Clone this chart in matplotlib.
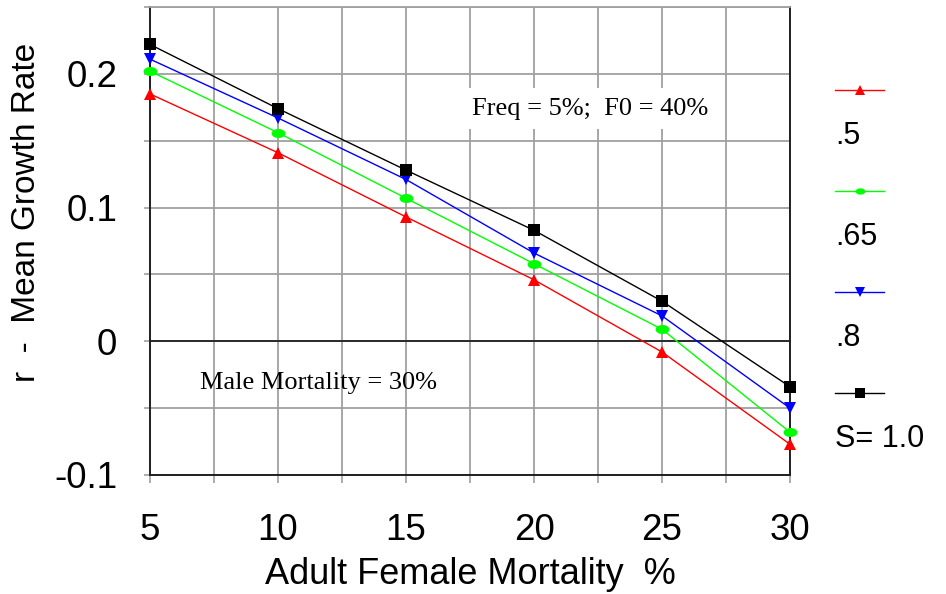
import numpy as np
import matplotlib
matplotlib.use("Agg")
import matplotlib.pyplot as plt
from matplotlib.lines import Line2D
from matplotlib.path import Path
from matplotlib.transforms import Affine2D
from matplotlib.ticker import MultipleLocator, FixedLocator, FixedFormatter

# adult female mortality (%) on the x axis
mortality = [5, 10, 15, 20, 25, 30]

# mean growth rate r for each survival value S
r_s050 = [0.185, 0.141, 0.093, 0.046, -0.008, -0.077]
r_s065 = [0.202, 0.156, 0.107, 0.058, 0.009, -0.068]
r_s080 = [0.211, 0.167, 0.121, 0.066, 0.019, -0.050]
r_s100 = [0.222, 0.174, 0.128, 0.083, 0.030, -0.034]

series_labels = [".5", ".65", ".8", "S= 1.0"]
series_colors = ["#ff0000", "#00ff00", "#0000ff", "#000000"]

ytick_values = [-0.1, 0, 0.1, 0.2]
ytick_labels = ["-0.1", "0", "0.1", "0.2"]

# flattened dot for the S=.65 series
ellipse = Path.unit_circle().transformed(Affine2D().scale(1.0, 0.65))
series_markers = ["^", ellipse, "v", "s"]
marker_sizes = [9, 10, 9, 8.5]

sans = "Liberation Sans"
serif = "Liberation Serif"
plt.rcParams["font.family"] = sans

fig = plt.figure(figsize=(9.46, 5.94), dpi=100)
ax = fig.add_axes([150 / 946, 1 - 475 / 594, 640 / 946, 468 / 594])

ax.set_xlim(5, 30)
ax.set_ylim(-0.1, 0.25)

grid_col = "#a0a0a0"
ax.xaxis.set_major_locator(MultipleLocator(5))
ax.xaxis.set_minor_locator(MultipleLocator(2.5))
ax.yaxis.set_major_locator(FixedLocator(ytick_values))
ax.yaxis.set_major_formatter(FixedFormatter(ytick_labels))
ax.yaxis.set_minor_locator(MultipleLocator(0.05))
ax.grid(True, which="both", color=grid_col, linewidth=1.3, zorder=0)
ax.set_axisbelow(True)
ax.axhline(0, color="#202020", linewidth=1.3, zorder=1)

for side in ["left", "bottom", "right"]:
    ax.spines[side].set_color("#202020")
    ax.spines[side].set_linewidth(1.4)
ax.spines["top"].set_color(grid_col)
ax.spines["top"].set_linewidth(1.3)

ax.tick_params(which="both", direction="out", color=grid_col, width=1.2)
ax.tick_params(axis="x", which="both", length=6, pad=21, labelsize=26.5)
ax.tick_params(axis="y", which="both", length=4.5, pad=19, labelsize=26.5)

series = [r_s050, r_s065, r_s080, r_s100]
for vals, col, mk, ms in zip(series, series_colors, series_markers, marker_sizes):
    ax.plot(mortality, vals, color=col, linewidth=1.0, marker=mk,
            markersize=ms, markeredgewidth=0, zorder=3, clip_on=False)

ax.set_xlabel("Adult Female Mortality  %", fontsize=26)
ax.set_ylabel("r  -  Mean Growth Rate", fontsize=24)
ax.xaxis.set_label_coords(0.5, -0.176)
ax.yaxis.set_label_coords(-0.169, 0.562)

ax.text(22.2, 0.174, "Freq = 5%;  F0 = 40%", family=serif, fontsize=19,
        ha="center", va="center", zorder=4,
        bbox=dict(boxstyle="square,pad=0.35", facecolor="white", edgecolor="none"))
ax.text(11.58, -0.031, "Male Mortality = 30%", family=serif, fontsize=19,
        ha="center", va="center", zorder=4)

# legend: line key with the label underneath
key_x0, key_x1 = 835 / 946, 884 / 946
for i, (lab, col, mk) in enumerate(zip(series_labels, series_colors, series_markers)):
    y_key = 1 - (90 + 101 * i) / 594
    y_lab = 1 - (136 + 101 * i) / 594
    fig.add_artist(Line2D([key_x0, key_x1], [y_key, y_key], color=col,
                          linewidth=1.0, transform=fig.transFigure))
    fig.add_artist(Line2D([(key_x0 + key_x1) / 2], [y_key], color=col,
                          marker=mk, markersize=7,
                          markeredgewidth=0, transform=fig.transFigure))
    fig.text(835 / 946, y_lab, lab, fontsize=22, ha="left", va="center")

fig.savefig("out.png", dpi=100)
